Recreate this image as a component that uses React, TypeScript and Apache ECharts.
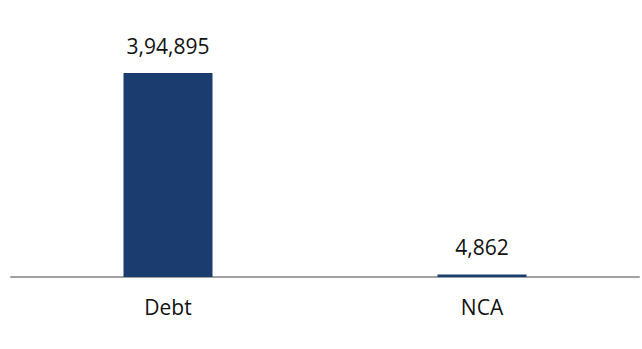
import React, { useEffect, useRef } from "react";
import * as echarts from "echarts";

const categories = ["Debt", "NCA"];
const values = [394895, 4862];

function formatIndian(n: number): string {
  const s = Math.round(n).toString();
  if (s.length <= 3) return s;
  const last3 = s.slice(-3);
  let rest = s.slice(0, -3);
  const parts: string[] = [];
  while (rest.length > 2) {
    parts.unshift(rest.slice(-2));
    rest = rest.slice(0, -2);
  }
  if (rest.length) parts.unshift(rest);
  return parts.join(",") + "," + last3;
}

export default function App() {
  const ref = useRef<HTMLDivElement>(null);
  useEffect(() => {
    if (!ref.current) return;
    const chart = echarts.init(ref.current, undefined, { renderer: "svg" });
    chart.setOption({
      animation: false,
      backgroundColor: "#ffffff",
      grid: { left: 11, right: 3, top: 73, bottom: 72 },
      xAxis: {
        type: "category",
        data: categories,
        axisLine: { show: true, lineStyle: { color: "#a0a0a0", width: 2 } },
        axisTick: { show: false },
        axisLabel: {
          color: "#111111",
          fontSize: 21,
          fontFamily: "Open Sans",
          margin: 19,
        },
      },
      yAxis: {
        type: "value",
        min: 0,
        max: 394895,
        show: false,
        splitLine: { show: false },
      },
      series: [
        {
          type: "bar",
          data: values,
          barWidth: 89,
          itemStyle: { color: "#1a3c6e" },
          label: {
            show: true,
            position: "top",
            distance: 17,
            color: "#111111",
            fontSize: 21,
            fontFamily: "Open Sans",
            formatter: (p: any) => formatIndian(p.value),
          },
        },
      ],
    });
    return () => chart.dispose();
  }, []);
  return (
    <div
      ref={ref}
      style={{ width: 642, height: 349, position: "absolute", left: 0, top: 0 }}
    />
  );
}
